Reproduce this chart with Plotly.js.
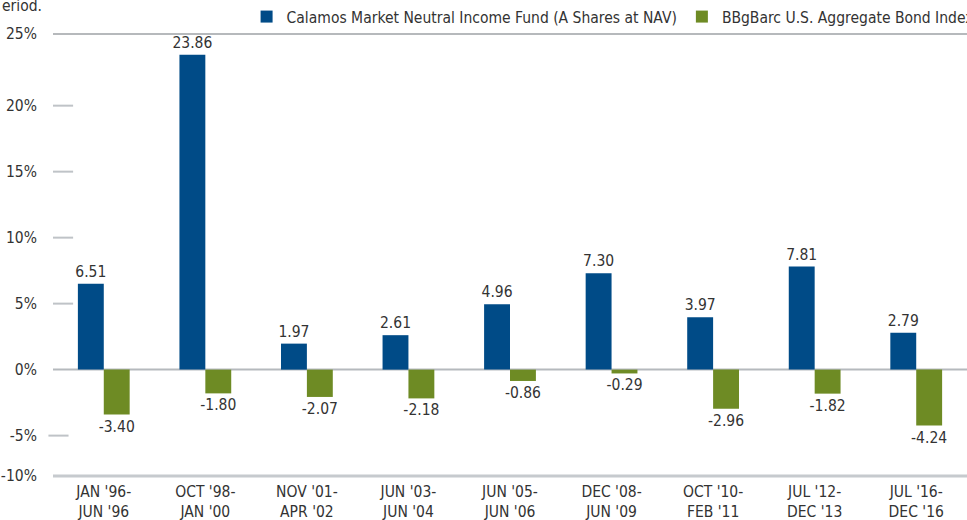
<!DOCTYPE html>
<html>
<head>
<meta charset="utf-8">
<script src="https://cdn.plot.ly/plotly-3.0.1.min.js"></script>
<style>html,body{margin:0;padding:0;background:#fff;}#chart{width:967px;height:520px;}</style>
</head>
<body>
<div id="chart"></div>
<script>
const categories = ["JAN '96-<br>JUN '96", "OCT '98-<br>JAN '00", "NOV '01-<br>APR '02", "JUN '03-<br>JUN '04", "JUN '05-<br>JUN '06", "DEC '08-<br>JUN '09", "OCT '10-<br>FEB '11", "JUL '12-<br>DEC '13", "JUL '16-<br>DEC '16"];
const fundValues = [6.51, 23.86, 1.97, 2.61, 4.96, 7.30, 3.97, 7.81, 2.79];
const indexValues = [-3.40, -1.80, -2.07, -2.18, -0.86, -0.29, -2.96, -1.82, -4.24];
const seriesNames = ["Calamos Market Neutral Income Fund (A Shares at NAV)", "BBgBarc U.S. Aggregate Bond Index"];
const yTickVals = [-8.06, -5, 0, 5, 10, 15, 20, 25.43];
const yTickText = ["-10%", "-5%", "0%", "5%", "10%", "15%", "20%", "25%"];

const FONT = "'DejaVu Sans Condensed', 'Liberation Sans Narrow', sans-serif";
const TXT = '#333333';
const FS = 15.5;

const traces = [
  {type: 'bar', name: seriesNames[0], x: categories, y: fundValues,
   marker: {color: '#004B87'}, texttemplate: '%{y:.2f}', textposition: 'outside', constraintext: 'none',
   textfont: {family: FONT, size: FS, color: TXT}, cliponaxis: false, hoverinfo: 'x+y'},
  {type: 'bar', name: seriesNames[1], x: categories, y: indexValues,
   marker: {color: '#6E8B24'}, texttemplate: '%{y:.2f}', textposition: 'outside', constraintext: 'none',
   textfont: {family: FONT, size: FS, color: TXT}, cliponaxis: false, hoverinfo: 'x+y'}
];

// short tick dashes and full lines (styling only)
const shapes = [];
[5, 10, 15, 20].forEach(v => shapes.push({type: 'line', xref: 'paper', yref: 'y', x0: 0, x1: 0.022, y0: v, y1: v, line: {color: '#BFC3C7', width: 2}}));
shapes.push({type: 'line', xref: 'paper', yref: 'y', x0: -0.005, x1: 0.017, y0: -5, y1: -5, line: {color: '#BFC3C7', width: 2}});
shapes.push({type: 'line', xref: 'paper', yref: 'paper', x0: 0, x1: 1, y0: 1, y1: 1, line: {color: '#9EA2A6', width: 1.5}});
shapes.push({type: 'line', xref: 'paper', yref: 'y', x0: 0, x1: 1, y0: 0, y1: 0, line: {color: '#B5B9BD', width: 2}, layer: 'below'});
shapes.push({type: 'line', xref: 'paper', yref: 'paper', x0: 0, x1: 1, y0: 0, y1: 0, line: {color: '#C6CACE', width: 3}});

const layout = {
  width: 967, height: 520,
  margin: {l: 53, r: 0, t: 32, b: 44},
  paper_bgcolor: '#ffffff', plot_bgcolor: '#ffffff',
  font: {family: FONT, size: FS, color: TXT},
  barmode: 'group', bargap: 0.49, bargroupgap: 0,
  showlegend: true,
  legend: {orientation: 'h', xref: 'container', yref: 'container', x: 0.255, y: 1.0, xanchor: 'left', yanchor: 'top',
           font: {family: FONT, size: FS, color: TXT}, bgcolor: 'rgba(0,0,0,0)'},
  xaxis: {type: 'category', showgrid: false, zeroline: false, showline: false, ticks: '', ticklabelstandoff: 4,
          tickfont: {family: FONT, size: FS, color: TXT}, automargin: false, range: [-0.5, 8.5]},
  yaxis: {range: [-8.06, 25.43], tickvals: yTickVals, ticktext: yTickText, showgrid: false, zeroline: false, showline: false,
          ticks: 'outside', ticklen: 12, tickcolor: 'rgba(0,0,0,0)', tickfont: {family: FONT, size: FS, color: TXT}, automargin: false},
  shapes: shapes,
  annotations: [{xref: 'paper', yref: 'paper', x: -0.058, y: 1.063, xanchor: 'left', yanchor: 'middle', text: 'eriod.', showarrow: false,
                 font: {family: FONT, size: FS, color: TXT}}]
};

Plotly.newPlot('chart', traces, layout, {displayModeBar: false, staticPlot: true});
</script>
</body>
</html>
